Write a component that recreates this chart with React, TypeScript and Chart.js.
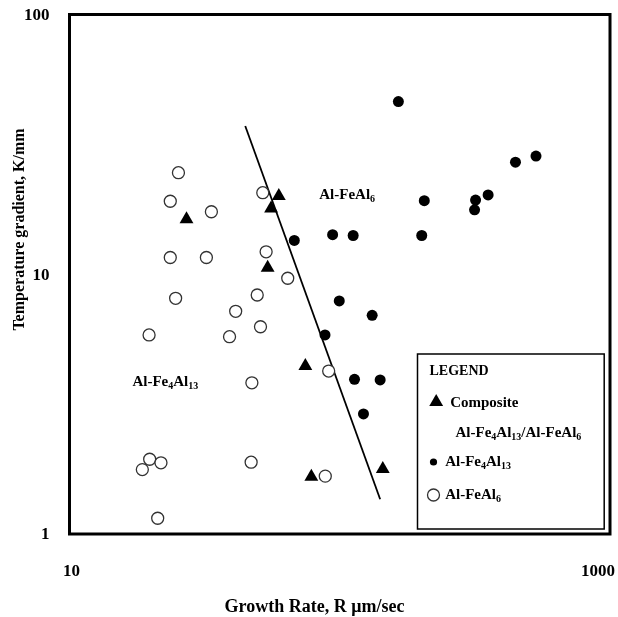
import React, { useEffect, useRef } from "react";
import { Chart, registerables } from "chart.js";

Chart.register(...registerables);

// ---- data ----
const openR = [25.3, 23.6, 33.5, 51.9, 23.6, 32.1, 53.4, 64.2, 24.7, 49.5, 41.2, 19.7, 39.1, 50.9, 47.3, 18.6, 19.8, 21.8, 47.0, 21.2, 91.0, 88.4];
const openG = [24.6, 19.1, 17.4, 20.6, 11.6, 11.6, 12.2, 9.65, 8.08, 8.32, 7.2, 5.84, 5.75, 6.28, 3.82, 1.77, 1.94, 1.88, 1.89, 1.15, 4.24, 1.67];
const compR = [27.1, 59.5, 55.7, 54.1, 74.6, 78.5, 144.3];
const compG = [16.3, 20.0, 17.9, 10.6, 4.43, 1.66, 1.78];
const filledR = [67.9, 164.8, 205.5, 94.1, 112.1, 201.1, 318.1, 315.4, 354, 446.9, 532.3, 99.6, 131.8, 88.2, 113.4, 141.1, 122.4];
const filledG = [13.5, 46.2, 19.2, 14.2, 14.1, 14.1, 19.3, 17.7, 20.2, 27.0, 28.5, 7.89, 6.95, 5.84, 3.94, 3.92, 2.9];
const boundaryR = [44.7, 141.1];
const boundaryG = [37.2, 1.36];

const xTicks = [10, 1000];
const yTicks = [1, 10, 100];
const yTickLabels = ["1", "10", "100"];
const xTickLabels = ["10", "1000"];

const regionLabels = ["Al-FeAl_{6}", "Al-Fe_{4}Al_{13}"];
const regionR = [84.0, 17.1];
const regionG = [20.2, 3.86];

const legendTitle = "LEGEND";
const legendItems = ["Composite", "Al-Fe_{4}Al_{13}/Al-FeAl_{6}", "Al-Fe_{4}Al_{13}", "Al-FeAl_{6}"];

const xTitle = "Growth Rate, R \u03bcm/sec";
const yTitle = "Temperature gradient, K/mm";

const FONT = '"Liberation Serif", "Times New Roman", serif';

function toPts(xs: number[], ys: number[]) {
  return xs.map((x, i) => ({ x, y: ys[i] }));
}

function drawRich(ctx: CanvasRenderingContext2D, str: string, x: number, y: number, size: number) {
  const parts = str.split(/(_\{[^}]*\})/).filter(Boolean);
  let cx = x;
  ctx.textAlign = "left";
  ctx.textBaseline = "middle";
  for (const p of parts) {
    const m = p.match(/^_\{([^}]*)\}$/);
    if (m) {
      ctx.font = `bold ${Math.round(size * 0.68)}px ${FONT}`;
      ctx.fillText(m[1], cx, y + size * 0.3);
      cx += ctx.measureText(m[1]).width;
    } else {
      ctx.font = `bold ${size}px ${FONT}`;
      ctx.fillText(p, cx, y);
      cx += ctx.measureText(p).width;
    }
  }
}

function tri(ctx: CanvasRenderingContext2D, x: number, y: number, r: number) {
  ctx.beginPath();
  for (let k = 0; k < 3; k++) {
    const a = -Math.PI / 2 + (k * 2 * Math.PI) / 3;
    const px = x + r * Math.cos(a);
    const py = y + r * Math.sin(a);
    if (k === 0) ctx.moveTo(px, py);
    else ctx.lineTo(px, py);
  }
  ctx.closePath();
  ctx.fill();
}

const decorPlugin = {
  id: "decor",
  afterDraw(chart: any) {
    const ctx: CanvasRenderingContext2D = chart.ctx;
    const ca = chart.chartArea;
    const xs = chart.scales.x;
    const ys = chart.scales.y;
    ctx.save();
    ctx.fillStyle = "#000";
    ctx.strokeStyle = "#000";

    // frame
    ctx.lineWidth = 3;
    ctx.strokeRect(ca.left, ca.top, ca.right - ca.left, ca.bottom - ca.top);

    // y tick labels
    ctx.font = `bold 17px ${FONT}`;
    ctx.textAlign = "right";
    ctx.textBaseline = "middle";
    yTicks.forEach((v, i) => {
      ctx.fillText(yTickLabels[i], ca.left - 20, ys.getPixelForValue(v) + 1);
    });

    // x tick labels
    xTicks.forEach((v, i) => {
      const last = i === xTicks.length - 1;
      ctx.textAlign = last ? "right" : "center";
      ctx.fillText(xTickLabels[i], xs.getPixelForValue(v) + (last ? 5 : 2), ca.bottom + 38);
    });

    // axis titles
    ctx.font = `bold 18px ${FONT}`;
    ctx.textAlign = "center";
    ctx.fillText(xTitle, ca.left + 245, ca.bottom + 73);
    ctx.save();
    ctx.translate(20, ca.top + 215);
    ctx.rotate(-Math.PI / 2);
    ctx.font = `bold 16px ${FONT}`;
    ctx.fillText(yTitle, 0, 0);
    ctx.restore();

    // region labels
    regionLabels.forEach((s, i) => {
      drawRich(ctx, s, xs.getPixelForValue(regionR[i]), ys.getPixelForValue(regionG[i]), 15);
    });

    // legend box
    const bx = ca.right - 192.5;
    const by = ca.bottom - 180;
    ctx.fillStyle = "#fff";
    ctx.fillRect(bx, by, 186.7, 175);
    ctx.fillStyle = "#000";
    ctx.lineWidth = 1.5;
    ctx.strokeRect(bx, by, 186.7, 175);

    drawRich(ctx, legendTitle, bx + 12, by + 17, 14);
    tri(ctx, bx + 18.7, by + 48, 8);
    drawRich(ctx, legendItems[0], bx + 32.7, by + 49, 15);
    drawRich(ctx, legendItems[1], bx + 38, by + 79, 15);
    ctx.beginPath();
    ctx.arc(bx + 16, by + 108, 3.6, 0, Math.PI * 2);
    ctx.fill();
    drawRich(ctx, legendItems[2], bx + 27.7, by + 108, 15);
    ctx.beginPath();
    ctx.arc(bx + 16, by + 141, 6, 0, Math.PI * 2);
    ctx.lineWidth = 1.3;
    ctx.strokeStyle = "#333";
    ctx.stroke();
    drawRich(ctx, legendItems[3], bx + 27.7, by + 141, 15);

    ctx.restore();
  },
};

export default function App() {
  const ref = useRef<HTMLCanvasElement | null>(null);
  useEffect(() => {
    if (!ref.current) return;
    const chart = new Chart(ref.current, {
      type: "scatter",
      data: {
        datasets: [
          {
            label: "boundary",
            data: toPts(boundaryR, boundaryG),
            showLine: true,
            pointRadius: 0,
            borderColor: "#000",
            borderWidth: 1.8,
            order: 10,
          },
          {
            label: "Al-FeAl6",
            data: toPts(openR, openG),
            pointStyle: "circle",
            pointRadius: 6,
            backgroundColor: "#fff",
            borderColor: "#333",
            borderWidth: 1.3,
            order: 1,
          },
          {
            label: "Composite",
            data: toPts(compR, compG),
            pointStyle: "triangle",
            pointRadius: 8,
            backgroundColor: "#000",
            borderColor: "#000",
            borderWidth: 0,
            order: 1,
          },
          {
            label: "Al-Fe4Al13",
            data: toPts(filledR, filledG),
            pointStyle: "circle",
            pointRadius: 5.5,
            backgroundColor: "#000",
            borderColor: "#000",
            borderWidth: 0,
            order: 1,
          },
        ],
      },
      options: {
        responsive: false,
        animation: false,
        devicePixelRatio: 1,
        layout: { padding: { left: 69.5, right: 6.5, top: 14.5, bottom: 83 } },
        plugins: { legend: { display: false }, tooltip: { enabled: false } },
        scales: {
          x: { type: "logarithmic", min: 10, max: 1000, display: false },
          y: { type: "logarithmic", min: 1, max: 100, display: false },
        },
      },
      plugins: [decorPlugin],
    });
    return () => chart.destroy();
  }, []);
  return (
    <div style={{ position: "absolute", left: 0, top: 0, width: 618, height: 617, background: "#fff" }}>
      <canvas ref={ref} width={618} height={617} style={{ width: 618, height: 617, display: "block" }} />
    </div>
  );
}
